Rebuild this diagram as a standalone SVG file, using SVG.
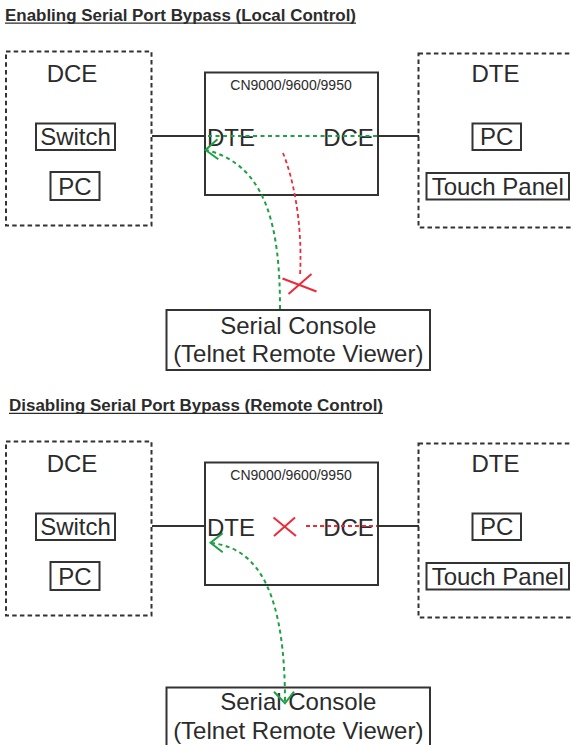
<svg xmlns="http://www.w3.org/2000/svg" width="571" height="745" viewBox="0 0 571 745">
<style>
text{font-family:"Liberation Sans",Arial,sans-serif;fill:#2b2b2b}
.title{font-size:16px;font-weight:bold}
.ul{stroke:#2b2b2b;stroke-width:1.3}
.big{font-size:24px;text-anchor:middle}
.cn{font-size:14px;text-anchor:middle}
.dash{fill:none;stroke:#333;stroke-width:2;stroke-dasharray:4.5 3.2}
.box{fill:none;stroke:#333;stroke-width:2}
.wire{stroke:#333;stroke-width:2;fill:none}
.g{fill:none;stroke:#1fa045;stroke-width:2;stroke-dasharray:4 3.5}
.gs{fill:none;stroke:#1fa045;stroke-width:2}
.r{fill:none;stroke:#ec2a3a;stroke-width:1.8;stroke-dasharray:4 3}
.rs{fill:none;stroke:#ec2a3a;stroke-width:2}
</style>

<!-- ===== Top section ===== -->
<g id="title1">
<text class="title" x="5" y="20.5" textLength="351" lengthAdjust="spacingAndGlyphs">Enabling Serial Port Bypass (Local Control)</text>
<line class="ul" x1="5" y1="23.2" x2="356" y2="23.2"/>
</g>

<g id="dce-group-1">
<rect class="dash" x="6" y="51.5" width="145.5" height="174"/>
<text class="big" x="72" y="81.5">DCE</text>
<rect class="box" x="36" y="123.5" width="79" height="26.5"/>
<text class="big" x="75.5" y="145">Switch</text>
<rect class="box" x="50.5" y="172" width="49" height="28"/>
<text class="big" x="75" y="195">PC</text>
</g>

<g id="dte-group-1">
<rect class="dash" x="418.5" y="53.5" width="170" height="174"/>
<text class="big" x="495.5" y="81.5">DTE</text>
<rect class="box" x="472.5" y="123.5" width="48.5" height="26.5"/>
<text class="big" x="496.7" y="145">PC</text>
<rect class="box" x="426.5" y="173" width="142.5" height="26.5"/>
<text class="big" x="497.7" y="195">Touch Panel</text>
</g>

<g id="device-1">
<rect class="box" x="205" y="72.5" width="173" height="122.5"/>
<text class="cn" x="291" y="90">CN9000/9600/9950</text>
<text class="big" x="231" y="146">DTE</text>
<text class="big" x="348.5" y="146">DCE</text>
</g>

<g id="console-1">
<rect class="box" x="166.5" y="310" width="263.5" height="60"/>
<text class="big" x="298.3" y="333.5">Serial Console</text>
<text class="big" x="298.3" y="362">(Telnet Remote Viewer)</text>
</g>

<g id="connectors-1">
<line class="wire" x1="152" y1="136" x2="205" y2="136"/>
<line class="wire" x1="378" y1="136" x2="419" y2="136"/>
<line class="g" x1="377" y1="136" x2="208" y2="136"/>
<path class="g" d="M280,309 C280,230 268,165 206,150"/>
<polyline class="gs" points="217.5,139.3 205.5,150 218.3,159.3"/>
<path class="r" d="M283,153 C292,175 303,220 300,276"/>
<line class="rs" x1="282.5" y1="278.5" x2="316.5" y2="291.5"/>
<line class="rs" x1="288.5" y1="294" x2="311.5" y2="274"/>
</g>

<!-- ===== Bottom section ===== -->
<g id="title2">
<text class="title" x="9" y="410.7" textLength="374" lengthAdjust="spacingAndGlyphs">Disabling Serial Port Bypass (Remote Control)</text>
<line class="ul" x1="9" y1="413.4" x2="383" y2="413.4"/>
</g>

<g id="dce-group-2">
<rect class="dash" x="6" y="441.5" width="145.5" height="174"/>
<text class="big" x="72" y="471.5">DCE</text>
<rect class="box" x="36" y="513.5" width="79" height="26.5"/>
<text class="big" x="75.5" y="535">Switch</text>
<rect class="box" x="50.5" y="562" width="49" height="28"/>
<text class="big" x="75" y="585">PC</text>
</g>

<g id="dte-group-2">
<rect class="dash" x="418.5" y="443.5" width="170" height="174"/>
<text class="big" x="495.5" y="471.5">DTE</text>
<rect class="box" x="472.5" y="513.5" width="48.5" height="26.5"/>
<text class="big" x="496.7" y="535">PC</text>
<rect class="box" x="426.5" y="563" width="142.5" height="26.5"/>
<text class="big" x="497.7" y="585">Touch Panel</text>
</g>

<g id="device-2">
<rect class="box" x="205" y="462.5" width="173" height="122.5"/>
<text class="cn" x="291" y="480">CN9000/9600/9950</text>
<text class="big" x="231" y="536">DTE</text>
<text class="big" x="348.5" y="536">DCE</text>
</g>

<g id="console-2">
<rect class="box" x="166.5" y="687.5" width="263.5" height="62"/>
<text class="big" x="298.3" y="710">Serial Console</text>
<text class="big" x="298.3" y="739">(Telnet Remote Viewer)</text>
</g>

<g id="connectors-2">
<line class="wire" x1="152" y1="526" x2="205" y2="526"/>
<line class="wire" x1="378" y1="526" x2="419" y2="526"/>
<line class="r" x1="306" y1="526" x2="377" y2="526"/>
<line class="rs" x1="273.5" y1="517.5" x2="296" y2="536"/>
<line class="rs" x1="274" y1="536" x2="295" y2="517.5"/>
<path class="g" d="M211,543 C262,548 285,600 285,702"/>
<polyline class="gs" points="222.7,533.3 210.5,542.7 222.7,552.3"/>
<polyline class="gs" points="274,691.7 285,703.3 294,691.7"/>
</g>
</svg>
